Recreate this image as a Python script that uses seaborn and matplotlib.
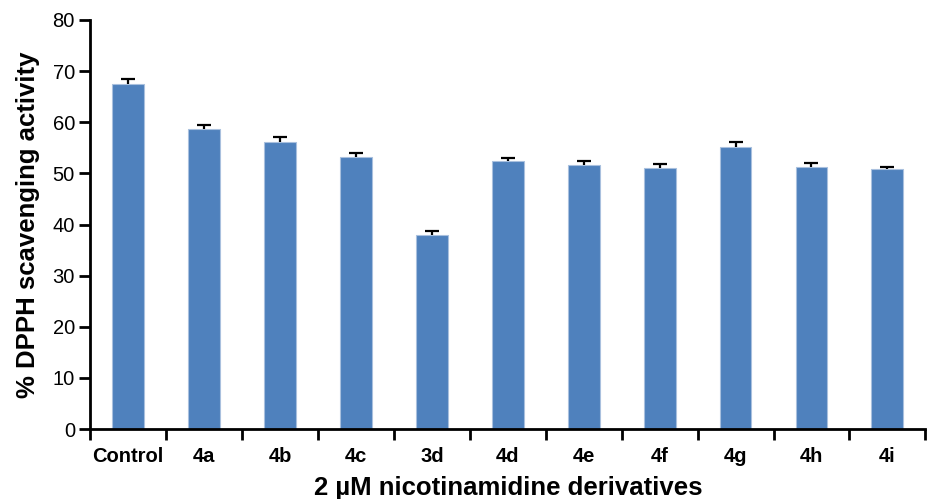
import numpy as np
import pandas as pd
import matplotlib
matplotlib.use("Agg")
import matplotlib.pyplot as plt
import seaborn as sns

# data
compounds = ["Control", "4a", "4b", "4c", "3d", "4d", "4e", "4f", "4g", "4h", "4i"]
scavenging = [67.5, 58.7, 56.2, 53.2, 38.0, 52.4, 51.6, 51.0, 55.2, 51.3, 50.9]
sem = [1.0, 0.8, 0.9, 0.8, 0.8, 0.7, 0.9, 0.8, 1.0, 0.8, 0.4]
y_ticks = [0, 10, 20, 30, 40, 50, 60, 70, 80]

df = pd.DataFrame({"compound": compounds, "activity": scavenging, "sem": sem})

sns.set_style("white")
plt.rcParams["font.family"] = ["Liberation Sans", "DejaVu Sans"]
plt.rcParams.update({
    "text.color": "black",
    "axes.labelcolor": "black",
    "xtick.color": "black",
    "ytick.color": "black",
})

fig = plt.figure(figsize=(9.3, 4.99), dpi=100)
ax = fig.add_axes([0.097, 0.140, 0.898, 0.82])

sns.barplot(data=df, x="compound", y="activity", color="#4F81BD",
            saturation=1, width=0.42, errorbar=None, ax=ax,
            edgecolor="#A9C0DE", linewidth=0.8)

# upper error bars only (lower part hidden by the bar anyway)
x = np.arange(len(compounds))
_, caps, _ = ax.errorbar(x, df["activity"], yerr=[np.zeros(len(sem)), df["sem"]],
                         fmt="none", ecolor="black", elinewidth=1.6,
                         capsize=4.8, capthick=1.6)
caps[0].set_visible(False)

ax.set_xlim(-0.5, len(compounds) - 0.5)
ax.set_ylim(0, 80)
ax.set_yticks(y_ticks)
ax.set_yticklabels([str(t) for t in y_ticks], fontsize=14.5)

# ticks at category boundaries, labels at centres
ax.set_xticks(np.arange(-0.5, len(compounds)), minor=False)
ax.set_xticklabels([])
ax.set_xticks(x, minor=True)
ax.set_xticklabels(compounds, minor=True, fontsize=14.5, fontweight="bold")
ax.tick_params(axis="x", which="major", direction="out", length=8, width=2, bottom=True)
ax.tick_params(axis="x", which="minor", length=0, pad=13)
ax.tick_params(axis="y", direction="out", length=8, width=2, left=True, pad=3)

for side in ["top", "right"]:
    ax.spines[side].set_visible(False)
for side in ["left", "bottom"]:
    ax.spines[side].set_linewidth(2)
    ax.spines[side].set_color("black")

ax.set_xlabel("2 \u00b5M nicotinamidine derivatives", fontsize=18.5, fontweight="bold", labelpad=7)
ax.set_ylabel("% DPPH scavenging activity", fontsize=18.5, fontweight="bold", labelpad=9)

plt.savefig("out.png", dpi=100)
